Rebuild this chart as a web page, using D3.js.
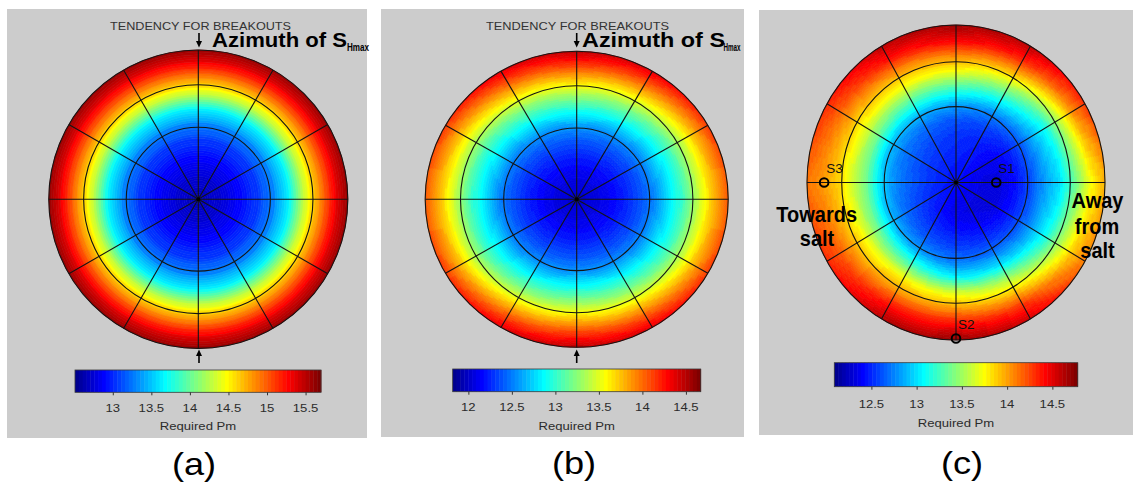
<!DOCTYPE html>
<html><head><meta charset="utf-8">
<script src="https://cdn.jsdelivr.net/npm/d3@7"></script>
<style>
body{margin:0;background:#fff;}
svg{display:block;}
text{font-family:"Liberation Sans",Arial,Helvetica,sans-serif;}
</style>
</head><body>
<svg id="chart" width="1133" height="485"></svg>
<script>
// ================= DATA =================
// borehole azimuth (deg, clockwise from top) and radial position (fraction of plot radius)
const azimuths = [0, 30, 60, 90, 120, 150, 180, 210, 240, 270, 300, 330];
const radii    = [0, 0.1, 0.2, 0.3, 0.4, 0.5, 0.6, 0.7, 0.8, 0.9, 1.0];

// (a) axisymmetric: one radial profile of Required Pm
const valuesA = [
  [12.68, 12.72, 12.80, 12.92, 13.06, 13.28, 13.62, 14.25, 14.78, 15.25, 15.60]
];
// (b) one row per azimuth
const valuesB = [
  [12.03, 12.06, 12.13, 12.25, 12.40, 12.60, 12.92, 13.30, 13.70, 14.12, 14.48],
  [12.03, 12.06, 12.13, 12.24, 12.38, 12.57, 12.88, 13.22, 13.62, 14.02, 14.38],
  [12.03, 12.05, 12.12, 12.22, 12.35, 12.53, 12.80, 13.08, 13.45, 13.82, 14.15],
  [12.03, 12.05, 12.11, 12.21, 12.33, 12.50, 12.78, 13.02, 13.40, 13.75, 14.02],
  [12.03, 12.05, 12.12, 12.22, 12.35, 12.53, 12.80, 13.08, 13.45, 13.82, 14.15],
  [12.03, 12.06, 12.13, 12.24, 12.38, 12.57, 12.88, 13.22, 13.62, 14.02, 14.38],
  [12.03, 12.06, 12.13, 12.25, 12.40, 12.60, 12.92, 13.30, 13.70, 14.12, 14.48],
  [12.03, 12.06, 12.13, 12.24, 12.38, 12.57, 12.88, 13.22, 13.62, 14.02, 14.38],
  [12.03, 12.05, 12.12, 12.22, 12.35, 12.53, 12.80, 13.08, 13.45, 13.82, 14.15],
  [12.03, 12.05, 12.11, 12.21, 12.33, 12.50, 12.78, 13.02, 13.40, 13.75, 14.02],
  [12.03, 12.05, 12.12, 12.22, 12.35, 12.53, 12.80, 13.08, 13.45, 13.82, 14.15],
  [12.03, 12.06, 12.13, 12.24, 12.38, 12.57, 12.88, 13.22, 13.62, 14.02, 14.38]
];
// (c) one row per azimuth
const valuesC = [
  [12.45, 12.46, 12.49, 12.53, 12.62, 12.85, 13.25, 13.70, 14.05, 14.45, 14.68],
  [12.45, 12.44, 12.45, 12.48, 12.57, 12.75, 13.10, 13.50, 13.95, 14.35, 14.60],
  [12.45, 12.40, 12.37, 12.38, 12.47, 12.65, 12.90, 13.15, 13.60, 14.05, 14.30],
  [12.45, 12.38, 12.32, 12.32, 12.42, 12.60, 12.82, 13.00, 13.35, 13.72, 13.95],
  [12.45, 12.37, 12.31, 12.33, 12.45, 12.62, 12.88, 13.15, 13.55, 13.90, 14.10],
  [12.45, 12.37, 12.33, 12.38, 12.50, 12.68, 13.00, 13.50, 13.90, 14.30, 14.55],
  [12.45, 12.38, 12.35, 12.43, 12.55, 12.70, 13.05, 13.65, 14.02, 14.40, 14.70],
  [12.45, 12.42, 12.42, 12.50, 12.62, 12.82, 13.25, 13.75, 14.05, 14.40, 14.62],
  [12.45, 12.46, 12.50, 12.58, 12.70, 12.92, 13.35, 13.72, 13.98, 14.20, 14.33],
  [12.45, 12.48, 12.55, 12.64, 12.75, 12.95, 13.35, 13.64, 13.88, 14.02, 14.12],
  [12.45, 12.48, 12.54, 12.62, 12.72, 12.92, 13.35, 13.70, 13.95, 14.17, 14.33],
  [12.45, 12.47, 12.52, 12.58, 12.68, 12.90, 13.30, 13.72, 14.02, 14.38, 14.60]
];

// colour ranges and colourbar ticks
const rangeA = [12.51, 15.70], ticksA = [13, 13.5, 14, 14.5, 15, 15.5];
const rangeB = [11.82, 14.67], ticksB = [12, 12.5, 13, 13.5, 14, 14.5];
const rangeC = [12.09, 14.78], ticksC = [12.5, 13, 13.5, 14, 14.5];

// polar grid
const gridRings  = [0.482, 0.767, 1.0];
const gridSpokes = [0, 30, 60, 90, 120, 150];

// principal stress directions in (c)
const stressNames = ["S1", "S2", "S3"];
const stressAz    = [90, 180, 270];
const stressR     = [0.27, 0.99, 0.885];

const panelNames = ["(a)", "(b)", "(c)"];
const titleText = "TENDENCY FOR BREAKOUTS";
const cbarLabel = "Required Pm";

// ================= STYLE / LAYOUT =================
const jetStops = ["#000080", "#0000ff", "#00ffff", "#ffff00", "#ff0000", "#800000"];
const jetPos   = [0, 0.125, 0.375, 0.625, 0.875, 1];
const NCOL = 64;
const jet = d3.scaleLinear().domain(jetPos).range(jetStops).interpolate(d3.interpolateRgb);
const jetColors = d3.range(NCOL).map(i => jet((i + 1) / NCOL));

const layout = [
  { bg:[7, 9, 360, 429],   cx:198.3, cy:199.2, rx:149.5, ry:149.2, values:valuesA, range:rangeA, ticks:ticksA,
    cbar:[75, 370, 246, 22.3], tickY:411.5, labelY:430, nameX:194, nameY:475,
    title:{x:200.5, y:29.6, len:181}, az:{ax:199, x:212, y:46.8, len:135, subX:347, subY:50.5, subLen:22}, arrowX:199 },
  { bg:[381, 9, 363, 428], cx:576.7, cy:199.3, rx:151.5, ry:148, values:valuesB, range:rangeB, ticks:ticksB,
    cbar:[452.7, 369, 248, 22.7], tickY:411, labelY:430, nameX:574, nameY:474,
    title:{x:577.5, y:29.6, len:183}, az:{ax:576.7, x:582, y:46.8, len:143, subX:723.5, subY:50.5, subLen:17}, arrowX:576.7 },
  { bg:[759, 10, 374, 425], cx:956, cy:182.5, rx:149, ry:157.5, values:valuesC, range:rangeC, ticks:ticksC,
    cbar:[834.3, 362.7, 243.4, 24], tickY:407.7, labelY:427, nameX:962, nameY:474 }
];

const svg = d3.select("#chart");
const FONT_SX = 1.13;

function addText(g, x, y, str, o) {
  o = o || {};
  return g.append("text")
    .attr("transform", `translate(${x},${y}) scale(${o.sx || 1},${o.sy || 1})`)
    .attr("text-anchor", o.anchor || "start")
    .attr("font-size", o.size || 12)
    .attr("font-weight", o.weight || "normal")
    .attr("fill", o.fill || "#000")
    .text(str);
}

// bilinear lookup in the (azimuth, radius) table
const rIndex = d3.scaleLinear().domain(d3.extent(radii)).range([0, radii.length - 1]);
function fieldAt(rows, azDeg, r) {
  const fi = rIndex(r);
  const i0 = Math.max(0, Math.min(Math.floor(fi), radii.length - 2));
  const ft = fi - i0;
  const radial = row => row[i0] * (1 - ft) + row[i0 + 1] * ft;
  if (rows.length === 1) return radial(rows[0]);
  const step = 360 / rows.length;
  const fa = ((azDeg % 360) + 360) % 360 / step;
  const j0 = Math.floor(fa) % rows.length, j1 = (j0 + 1) % rows.length, fa1 = fa - Math.floor(fa);
  return radial(rows[j0]) * (1 - fa1) + radial(rows[j1]) * fa1;
}

const arc = d3.arc();
const NR = 64, NA = 144;

layout.forEach((p, k) => {
  const g = svg.append("g");
  g.append("rect").attr("x", p.bg[0]).attr("y", p.bg[1]).attr("width", p.bg[2]).attr("height", p.bg[3]).attr("fill", "#cccccc");

  const color = d3.scaleQuantize().domain(p.range).range(jetColors);
  const rScale = d3.scaleLinear().domain([0, 1]).range([0, p.rx]);
  const aScale = d3.scaleLinear().domain([0, 360]).range([0, 2 * Math.PI]);

  // field cells
  const cells = [];
  const na = p.values.length === 1 ? 1 : NA;
  for (let ir = 0; ir < NR; ir++) {
    for (let ia = 0; ia < na; ia++) {
      const a0 = ia * 360 / na, a1 = (ia + 1) * 360 / na;
      const rm = (ir + 0.5) / NR, am = (a0 + a1) / 2;
      cells.push({ r0: ir / NR, r1: (ir + 1) / NR, a0, a1, v: fieldAt(p.values, am, rm) });
    }
  }
  const field = g.append("g").attr("transform", `translate(${p.cx},${p.cy}) scale(1,${p.ry / p.rx})`);
  field.selectAll("path").data(cells).join("path")
    .attr("d", d => arc({ innerRadius: rScale(d.r0), outerRadius: rScale(d.r1), startAngle: aScale(d.a0), endAngle: aScale(d.a1) }))
    .attr("fill", d => color(d.v))
    .attr("stroke", d => color(d.v))
    .attr("stroke-width", 0.6);

  // grid
  const grid = g.append("g").attr("fill", "none").attr("stroke", "#141414").attr("stroke-width", 1.1);
  grid.selectAll("ellipse").data(gridRings).join("ellipse")
    .attr("cx", p.cx).attr("cy", p.cy)
    .attr("rx", d => rScale(d)).attr("ry", d => rScale(d) * p.ry / p.rx);
  grid.selectAll("line").data(gridSpokes).join("line")
    .attr("x1", d => p.cx - p.rx * Math.sin(aScale(d))).attr("y1", d => p.cy + p.ry * Math.cos(aScale(d)))
    .attr("x2", d => p.cx + p.rx * Math.sin(aScale(d))).attr("y2", d => p.cy - p.ry * Math.cos(aScale(d)));
  g.append("circle").attr("cx", p.cx).attr("cy", p.cy).attr("r", 2).attr("fill", "#000");

  // colourbar
  const [bx, by, bw, bh] = p.cbar;
  const xs = d3.scaleLinear().domain(p.range).range([bx, bx + bw]);
  const span = p.range[1] - p.range[0];
  g.append("g").selectAll("rect").data(jetColors).join("rect")
    .attr("x", (d, i) => xs(p.range[0] + i * span / NCOL))
    .attr("width", (d, i) => xs(p.range[0] + (i + 1) * span / NCOL) - xs(p.range[0] + i * span / NCOL) + 0.4)
    .attr("y", by).attr("height", bh).attr("fill", d => d);
  g.append("rect").attr("x", bx).attr("y", by).attr("width", bw).attr("height", bh)
    .attr("fill", "none").attr("stroke", "#3a3a3a").attr("stroke-width", 0.8);
  const ax = g.append("g").attr("transform", `translate(0,${by + bh})`)
    .call(d3.axisBottom(xs).tickValues(p.ticks).tickSize(3).tickFormat(d3.format("")));
  ax.select(".domain").remove();
  ax.selectAll(".tick line").attr("stroke", "#333");
  ax.selectAll(".tick text").remove();
  p.ticks.forEach(t => addText(g, xs(t), p.tickY, String(t), { anchor: "middle", size: 11.6, fill: "#2b2b2b", sx: FONT_SX }));
  addText(g, bx + bw / 2, p.labelY, cbarLabel, { anchor: "middle", size: 11.6, fill: "#2b2b2b", sx: FONT_SX });

  // panel name
  addText(svg, p.nameX, p.nameY, panelNames[k], { anchor: "middle", size: 32, fill: "#000", sx: FONT_SX });

  // title + S_Hmax annotation with arrows
  if (p.title) {
    addText(g, p.title.x, p.title.y, titleText, { anchor: "middle", size: 10.6, fill: "#333" })
      .attr("textLength", p.title.len / 1).attr("lengthAdjust", "spacingAndGlyphs");
    const a = p.az;
    const arr = g.append("g").attr("stroke", "#000").attr("fill", "#000");
    arr.append("line").attr("x1", a.ax).attr("x2", a.ax).attr("y1", 33).attr("y2", 44).attr("stroke-width", 1.6);
    arr.append("path").attr("d", `M${a.ax - 3},${41} L${a.ax + 3},${41} L${a.ax},${47.5} Z`).attr("stroke", "none");
    addText(g, a.x, a.y, "Azimuth of S", { size: 19.5, weight: "bold" })
      .attr("textLength", a.len).attr("lengthAdjust", "spacingAndGlyphs");
    addText(g, a.subX, a.subY, "Hmax", { size: 11.5, weight: "bold" })
      .attr("textLength", a.subLen).attr("lengthAdjust", "spacingAndGlyphs");
    const bx0 = p.arrowX;
    arr.append("line").attr("x1", bx0).attr("x2", bx0).attr("y1", 354).attr("y2", 363).attr("stroke-width", 1.6);
    arr.append("path").attr("d", `M${bx0 - 3},${356} L${bx0 + 3},${356} L${bx0},${349.5} Z`).attr("stroke", "none");
  }

  // stress markers in (c)
  if (k === 2) {
    stressNames.forEach((s, i) => {
      const th = aScale(stressAz[i]);
      const mx = p.cx + rScale(stressR[i]) * Math.sin(th);
      const my = p.cy - rScale(stressR[i]) * (p.ry / p.rx) * Math.cos(th);
      g.append("circle").attr("cx", mx).attr("cy", my).attr("r", 4.3)
        .attr("fill", "none").attr("stroke", "#000").attr("stroke-width", 2);
      addText(g, mx + 2, my - 9.5, s, { size: 13.5, fill: "#111" });
    });
    const sy = 1.06;
    addText(g, 816.7, 221.7, "Towards", { anchor: "middle", size: 20, weight: "bold", sy });
    addText(g, 817, 246, "salt", { anchor: "middle", size: 20, weight: "bold", sy });
    addText(g, 1097.5, 208.3, "Away", { anchor: "middle", size: 20, weight: "bold", sy });
    addText(g, 1097, 233.5, "from", { anchor: "middle", size: 20, weight: "bold", sy });
    addText(g, 1097.5, 258, "salt", { anchor: "middle", size: 20, weight: "bold", sy });
  }
});
</script>
</body></html>
